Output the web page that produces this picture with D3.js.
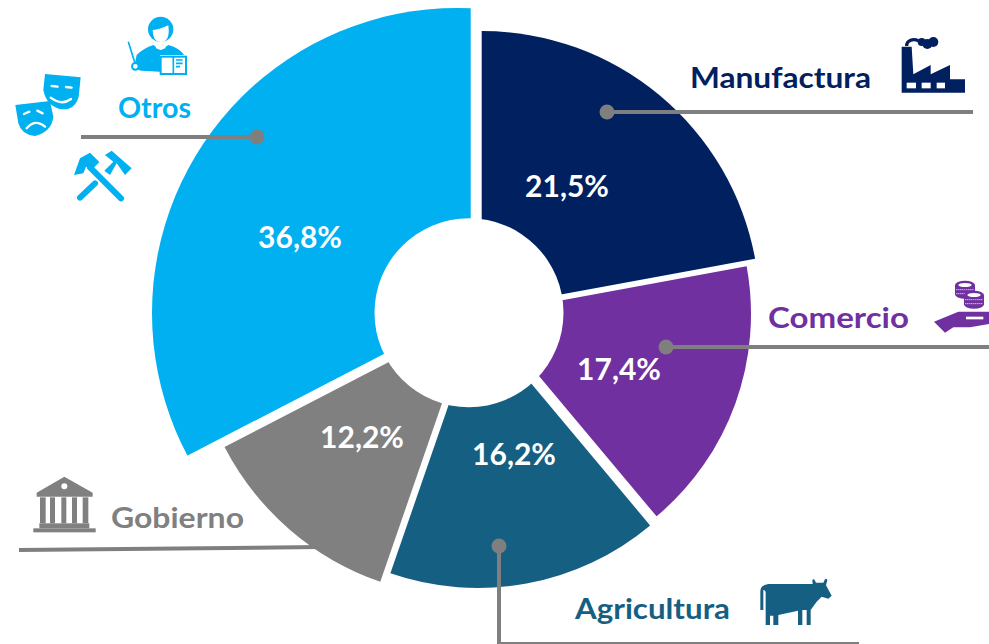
<!DOCTYPE html>
<html><head><meta charset="utf-8">
<script src="https://cdn.jsdelivr.net/npm/d3@7/dist/d3.min.js"></script>
<style>html,body{margin:0;padding:0;background:#fff;overflow:hidden}svg{display:block}text{font-family:Lato,"Open Sans",sans-serif;font-weight:700}</style>
</head><body><svg id="c" width="989" height="644"></svg>
<script>
const categories = ["Manufactura","Comercio","Agricultura","Gobierno","Otros"];
const sliceValues = [22.1,16.8,16.4,12.1,32.6];
const valueLabels = ["21,5%","17,4%","16,2%","12,2%","36,8%"];
const colors = ["#002060","#7030A0","#156082","#808080","#00B0F0"];
const GRAY = "#7f7f7f";

const apexes = [[481.7,309],[487,314],[478,320],[471,319.5],[470.7,309]];
const outer = [278,264,268,277.5,400];
const hole = {x:469,y:312.7,r:94.5};
const otrosClip = {x:457,y:313,r:305};
const labelPos = [[567,197],[619,380],[514,465],[362,448],[300,248]];
const catPos = [[690,88,181],[768,328,141],[575,619,155],[111,528,133],[118,118,73]];
const leaders = [
  {d:[[607,112],[973,112]],dot:true},
  {d:[[666,347],[989,347]],dot:true},
  {d:[[499,546],[499,644],[859,644]],dot:true},
  {d:[[19,550],[320,547]],dot:false},
  {d:[[257,137],[81,137]],dot:true}
];

const svg = d3.select("#c");
svg.append("defs").append("clipPath").attr("id","otros").append("circle")
  .attr("cx",otrosClip.x).attr("cy",otrosClip.y).attr("r",otrosClip.r);
const pie = d3.pie().sort(null).value(d=>d)(sliceValues);
const sliceG = svg.selectAll("g.s").data(pie).join("g").attr("class","s")
  .attr("clip-path",(d,i)=>i===4?"url(#otros)":null);
sliceG.append("path")
  .attr("fill",(d,i)=>colors[i])
  .attr("transform",(d,i)=>`translate(${apexes[i]})`)
  .attr("d",(d,i)=>d3.arc().innerRadius(0).outerRadius(outer[i])(d));
svg.append("circle").attr("cx",hole.x).attr("cy",hole.y).attr("r",hole.r).attr("fill","#fff");

const line = d3.line().x(d=>d[0]).y(d=>d[1]);
svg.selectAll("path.leader").data(leaders).join("path").attr("class","leader")
  .attr("d",d=>line(d.d)).attr("fill","none").attr("stroke",GRAY).attr("stroke-width",4);
svg.selectAll("circle.dot").data(leaders.filter(d=>d.dot)).join("circle").attr("class","dot")
  .attr("cx",d=>d.d[0][0]).attr("cy",d=>d.d[0][1]).attr("r",7.5).attr("fill",GRAY);

svg.selectAll("text.val").data(valueLabels).join("text").attr("class","val")
  .attr("x",(d,i)=>labelPos[i][0]).attr("y",(d,i)=>labelPos[i][1])
  .attr("text-anchor","middle").attr("fill","#fff").attr("font-size",30).text(d=>d);
svg.selectAll("text.cat").data(categories).join("text").attr("class","cat")
  .attr("x",(d,i)=>catPos[i][0]).attr("y",(d,i)=>catPos[i][1])
  .attr("fill",(d,i)=>colors[i]).attr("font-size",29)
  .attr("textLength",(d,i)=>catPos[i][2]).attr("lengthAdjust","spacingAndGlyphs").text(d=>d);

function icon(x,y,html){svg.append("g").attr("transform",`translate(${x},${y}) scale(${1/3})`).html(html);}
// factory
icon(680,20,`<g fill="#002060"><path d="M665 218V80H695L700 163L752 135V163L810 135V178H855V218Z"/>
<path d="M680 78C680 60 700 55 715 62" fill="none" stroke="#002060" stroke-width="10"/>
<circle cx="725" cy="66" r="12"/><circle cx="742" cy="72" r="15"/><circle cx="760" cy="66" r="15"/></g>
<g fill="#fff"><rect x="680" y="188" width="28" height="17"/><rect x="725" y="188" width="27" height="17"/><rect x="770" y="188" width="25" height="17"/></g>`);
// hand + coins
const coin=(cx,cy)=>`<ellipse cx="${cx}" cy="${cy}" rx="30" ry="13" fill="#7030A0"/><ellipse cx="${cx}" cy="${cy}" rx="20" ry="6" fill="#fff"/>`;
const stack=(cx,cy)=>`<rect x="${cx-30}" y="${cy}" width="60" height="28" fill="#7030A0"/><ellipse cx="${cx}" cy="${cy+28}" rx="30" ry="13" fill="#7030A0"/><path d="M${cx-26} ${cy+14}h52M${cx-26} ${cy+26}h52" stroke="#fff" stroke-width="3" stroke-dasharray="3 3"/>`+coin(cx,cy);
icon(750,270,`${stack(645,45)}${stack(672,75)}
<path d="M552 155L625 125H717V162L660 172L610 172L585 188Z" fill="#7030A0"/><path d="M648 144H700" stroke="#fff" stroke-width="8"/>`);
// bank
icon(0,460,`<g fill="#808080"><path d="M193 50L278 98V110H110V98Z"/><rect x="118" y="190" width="150" height="15"/><rect x="100" y="205" width="187" height="12"/>
<rect x="120" y="112" width="17" height="78"/><rect x="150" y="112" width="15" height="78"/><rect x="184" y="112" width="15" height="78"/><rect x="216" y="112" width="15" height="78"/><rect x="248" y="112" width="17" height="78"/></g><circle cx="193" cy="79" r="9" fill="#fff"/>`);
// cow
icon(560,560,`<path fill="#156082" d="M625 72L758 72L757 60Q760 55 764 60L768 68L790 68L795 58Q799 54 802 60L798 76L815 107L805 116L785 110L770 125L752 150V195H740V150H727V195H714V152L655 165V195H640V167H630V195H617V100Q617 90 610 90V150H601V95Q601 75 625 72Z"/>`);
// masks, tools, teacher
icon(0,0,`<g fill="#00B0F0"><path d="M135 222L242 232L236 290Q225 330 185 328Q140 320 130 270Z"/>
<path d="M46 315L150 303L160 350Q155 395 105 408Q65 405 55 370Z"/></g>
<g stroke="#fff" fill="none" stroke-width="7" stroke-linecap="round"><path d="M155 258L173 260M198 261L215 263"/><path d="M152 293Q185 318 213 297"/>
<path d="M72 342L88 335M112 332L128 340"/><path d="M80 385Q105 355 135 380"/></g>
<g transform="translate(180,450)" fill="#00B0F0" stroke-linecap="round">
<path d="M42 75L60 25L90 8L118 36L100 55L78 50L70 70Z"/>
<path d="M90 52L183 145" stroke="#00B0F0" stroke-width="18" fill="none"/>
<path d="M135 15L155 2L215 55L195 75L170 40L150 75L133 62L160 35Z"/>
<path d="M60 143L105 100" stroke="#00B0F0" stroke-width="18" fill="none"/></g>
<g fill="#00B0F0"><circle cx="482" cy="88" r="38"/>
<path d="M410 165Q430 145 460 135L482 150L505 135Q540 145 552 165H480V215L425 212Q400 212 405 190Z"/></g>
<path d="M458 90Q480 88 505 76Q512 125 482 127Q458 125 458 90Z" fill="#fff"/>
<path d="M465 125H500L496 145L482 150L468 145Z" fill="#fff"/>
<path d="M385 125L405 190" stroke="#00B0F0" stroke-width="5"/><circle cx="406" cy="199" r="10" fill="#fff" stroke="#00B0F0" stroke-width="6"/>
<rect x="482" y="170" width="76" height="52" fill="#fff" stroke="#00B0F0" stroke-width="6"/><path d="M520 170V222" stroke="#00B0F0" stroke-width="5"/>
<path d="M528 180H548M528 190H548M528 200H540" stroke="#00B0F0" stroke-width="5"/>`);
</script></body></html>
